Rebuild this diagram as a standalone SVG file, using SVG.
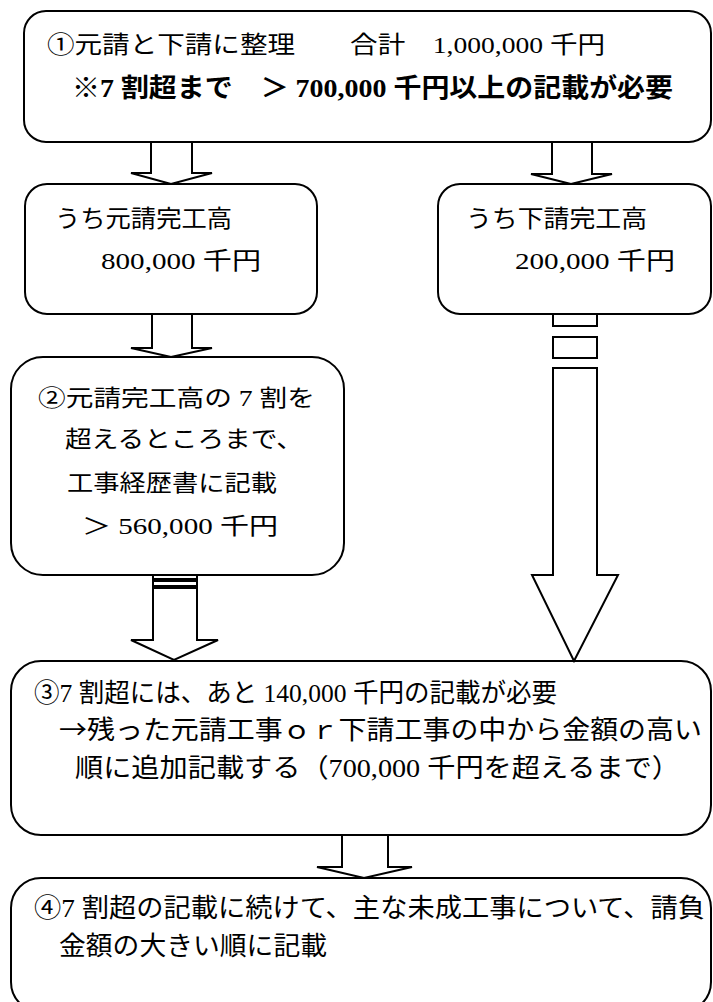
<svg xmlns="http://www.w3.org/2000/svg" width="713" height="1002" viewBox="0 0 713 1002">
<style>
.box{fill:#fff;stroke:#000;stroke-width:2}
.arr{fill:#fff;stroke:#000;stroke-width:2;stroke-linejoin:miter}
text{font-family:"Liberation Serif","Noto Sans CJK JP",serif;fill:#000}
.cjk{font-family:"Noto Sans CJK JP",sans-serif}
.t24{font-size:24px}
.t23{font-size:23px}
.t26{font-size:26px}
.b{font-weight:bold}
</style>
<rect width="713" height="1002" fill="#fff"/>
<g id="n1">
<rect class="box" x="24" y="11" width="687" height="131" rx="22" ry="22"/>
<text class="t24" x="47" y="53" textLength="558" lengthAdjust="spacingAndGlyphs">①元請と下請に整理　　合計　1,000,000 千円</text>
<text class="t26 b" x="72" y="97" textLength="601" lengthAdjust="spacingAndGlyphs">※7 割超まで　＞ 700,000 千円以上の記載が必要</text>
</g>
<g id="n2a">
<rect class="box" x="25" y="184" width="292" height="130" rx="22" ry="22"/>
<text class="t24" x="55" y="227" textLength="177" lengthAdjust="spacingAndGlyphs">うち元請完工高</text>
<text class="t24" x="101" y="269" textLength="160" lengthAdjust="spacingAndGlyphs">800,000 千円</text>
</g>
<g id="n2b">
<rect class="box" x="438" y="184" width="273" height="130" rx="22" ry="22"/>
<text class="t24" x="466" y="227" textLength="181" lengthAdjust="spacingAndGlyphs">うち下請完工高</text>
<text class="t24" x="515" y="269" textLength="160" lengthAdjust="spacingAndGlyphs">200,000 千円</text>
</g>
<g id="n3">
<rect class="box" x="11" y="357" width="333" height="218" rx="32" ry="32"/>
<text class="t23" x="38" y="406" textLength="277" lengthAdjust="spacingAndGlyphs">②元請完工高の 7 割を</text>
<text class="t23" x="65" y="447" textLength="238" lengthAdjust="spacingAndGlyphs">超えるところまで、</text>
<text class="t23" x="67" y="491" textLength="210" lengthAdjust="spacingAndGlyphs">工事経歴書に記載</text>
<text class="t23" x="82" y="534" textLength="196" lengthAdjust="spacingAndGlyphs">＞ 560,000 千円</text>
</g>
<g id="n4">
<rect class="box" x="11" y="661" width="700" height="174" rx="30" ry="30"/>
<text class="t26" x="34" y="702" textLength="523" lengthAdjust="spacingAndGlyphs">③7 割超には、あと 140,000 千円の記載が必要</text>
<text class="t26" x="59" y="739" textLength="643" lengthAdjust="spacingAndGlyphs"><tspan class="cjk">→</tspan>残った元請工事ｏｒ下請工事の中から金額の高い</text>
<text class="t26" x="75" y="777" textLength="605" lengthAdjust="spacingAndGlyphs">順に追加記載する（700,000 千円を超えるまで）</text>
</g>
<g id="n5">
<rect class="box" x="11" y="878" width="700" height="134" rx="30" ry="30"/>
<text class="t26" x="34" y="917" textLength="671" lengthAdjust="spacingAndGlyphs">④7 割超の記載に続けて、主な未成工事について、請負</text>
<text class="t26" x="59" y="955" textLength="268" lengthAdjust="spacingAndGlyphs">金額の大きい順に記載</text>
</g>
<g id="connectors">
<polygon class="arr" points="151,142 192,142 192,173 212,173 171,184 131,173 151,173"/>
<polygon class="arr" points="552,142 592,142 592,174 612,174 571,184 531,174 552,174"/>
<polygon class="arr" points="152,314 192,314 192,348 212,348 171,357 131,348 152,348"/>
<rect class="arr" x="153" y="575" width="44" height="4"/>
<rect class="arr" x="153" y="581" width="44" height="5"/>
<polygon class="arr" points="153,588 197,588 197,640 218,640 174,660 131,640 153,640"/>
<rect class="arr" x="553" y="314" width="44" height="12"/>
<rect class="arr" x="553" y="337" width="44" height="21"/>
<polygon class="arr" points="553,368 597,368 597,575 618,575 574,661 532,575 553,575"/>
<polygon class="arr" points="342,835 388,835 388,867 412,867 364,878 317,867 342,867"/>
</g>
</svg>
